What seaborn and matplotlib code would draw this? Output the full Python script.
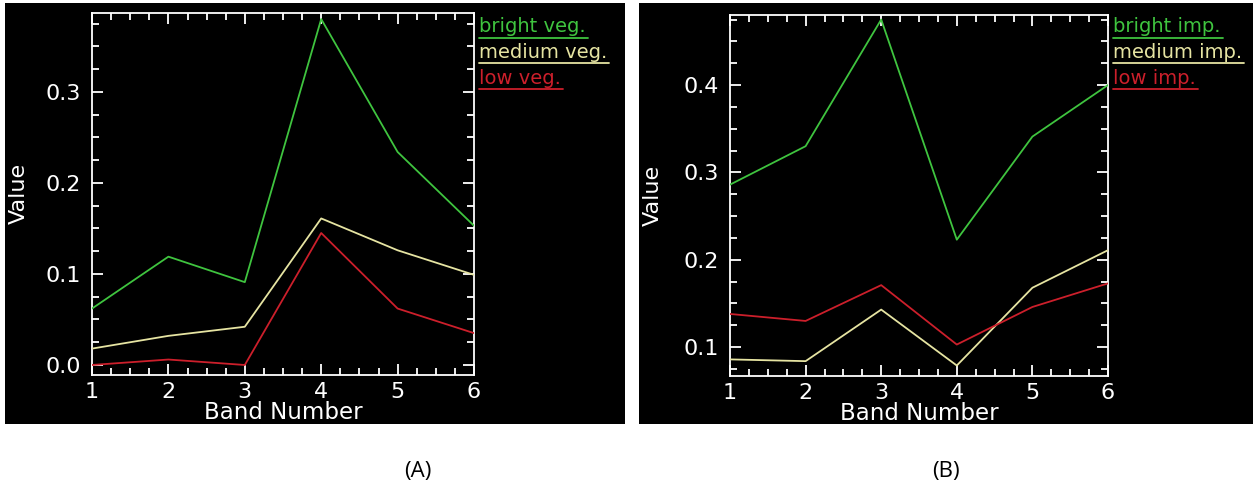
import numpy as np
import pandas as pd
import matplotlib
matplotlib.use("Agg")
import matplotlib.pyplot as plt
from matplotlib.patches import Rectangle
from matplotlib.lines import Line2D
from matplotlib.ticker import MultipleLocator
import seaborn as sns

# ---------------- data ----------------
bands = [1, 2, 3, 4, 5, 6]

veg_names = ["bright veg.", "medium veg.", "low veg."]
bright_veg = [0.062, 0.119, 0.091, 0.380, 0.234, 0.153]
medium_veg = [0.018, 0.032, 0.042, 0.161, 0.126, 0.099]
low_veg = [0.000, 0.006, 0.000, 0.145, 0.062, 0.035]

imp_names = ["bright imp.", "medium imp.", "low imp."]
bright_imp = [0.286, 0.330, 0.475, 0.223, 0.341, 0.400]
medium_imp = [0.086, 0.084, 0.143, 0.079, 0.168, 0.211]
low_imp = [0.138, 0.130, 0.171, 0.103, 0.146, 0.173]

veg_yticks = [0.0, 0.1, 0.2, 0.3]
veg_yticklabels = ["0.0", "0.1", "0.2", "0.3"]
imp_yticks = [0.1, 0.2, 0.3, 0.4]
imp_yticklabels = ["0.1", "0.2", "0.3", "0.4"]

panel_labels = ["(A)", "(B)"]

colors = ["#3fc43f", "#e6e4a2", "#cc1f2b"]

# ---------------- figure ----------------
sns.set_theme(style="dark")
plt.rcParams["font.family"] = ["DejaVu Sans"]

W, H = 1257, 488
fig = plt.figure(figsize=(W / 100, H / 100), dpi=100, facecolor="white")


def fx(px):
    return px / W


def fy(py):
    return 1 - py / H


# black panels
for (x0, y0, x1, y1) in [(5, 3, 625, 424), (639, 3, 1253, 424)]:
    fig.patches.append(Rectangle((fx(x0), fy(y1)), fx(x1 - x0), (y1 - y0) / H,
                                 transform=fig.transFigure, facecolor="black",
                                 edgecolor="none", zorder=-5))


def make_df(names, series):
    rows = []
    for n, s in zip(names, series):
        for b, v in zip(bands, s):
            rows.append({"band": b, "value": v, "series": n})
    return pd.DataFrame(rows)


panels = [
    dict(box=(92, 12.7, 474, 375), ylim=(-0.011, 0.387), names=veg_names,
         series=[bright_veg, medium_veg, low_veg], yt=veg_yticks, ytl=veg_yticklabels,
         ylab_x=-0.165),
    dict(box=(730, 14.7, 1108, 376), ylim=(0.067, 0.4805), names=imp_names,
         series=[bright_imp, medium_imp, low_imp], yt=imp_yticks, ytl=imp_yticklabels,
         ylab_x=-0.177),
]

legend_texts = []
for p in panels:
    x0, y0, x1, y1 = p["box"]
    ax = fig.add_axes([fx(x0), fy(y1), fx(x1 - x0), (y1 - y0) / H])
    ax.set_facecolor("black")
    df = make_df(p["names"], p["series"])
    sns.lineplot(data=df, x="band", y="value", hue="series", hue_order=p["names"],
                 palette=colors, linewidth=1.3, legend=False, ax=ax, zorder=3)
    ax.set_xlim(1, 6)
    ax.set_ylim(*p["ylim"])
    ax.set_xticks(bands)
    ax.set_xticklabels([str(b) for b in bands])
    ax.set_yticks(p["yt"])
    ax.set_yticklabels(p["ytl"])
    ax.xaxis.set_minor_locator(MultipleLocator(0.25))
    ax.yaxis.set_minor_locator(MultipleLocator(0.025))
    ax.grid(False)
    for s in ax.spines.values():
        s.set_color("white")
        s.set_linewidth(1.3)
        s.set_visible(True)
    ax.tick_params(which="both", direction="in", top=True, right=True,
                   bottom=True, left=True, color="white", labelcolor="white",
                   labelsize=16, width=1.3)
    ax.tick_params(which="major", length=8)
    ax.tick_params(which="minor", length=5)
    ax.tick_params(axis="x", pad=5)
    ax.tick_params(axis="y", pad=8)
    ax.set_xlabel("Band Number", color="white", fontsize=16.5, labelpad=-1)
    ax.set_ylabel("Value", color="white", fontsize=16)
    ax.yaxis.set_label_coords(p["ylab_x"], 0.5)
    # legend: colored text with underline
    for i, (n, c) in enumerate(zip(p["names"], colors)):
        ty = (27 + 25.5 * i)
        t = fig.text(fx(x1 + 5), fy(ty), n, color=c,
                     fontsize=14, ha="left", va="center")
        legend_texts.append(t)

fig.canvas.draw()
renderer = fig.canvas.get_renderer()
# underlines
for t in legend_texts:
    bb = t.get_window_extent(renderer)
    uy = bb.y0 - 1
    fig.add_artist(Line2D([bb.x0 / W, (bb.x1 + 2) / W], [uy / H, uy / H],
                          transform=fig.transFigure, color=t.get_color(), lw=1.3))

# panel labels
fig.text(fx(418), fy(471), panel_labels[0], fontsize=16, color="black",
         ha="center", va="center", family=["Open Sans", "DejaVu Sans"])
fig.text(fx(946), fy(471), panel_labels[1], fontsize=16, color="black",
         ha="center", va="center", family=["Open Sans", "DejaVu Sans"])

fig.savefig("out.png", dpi=100, facecolor="white")
